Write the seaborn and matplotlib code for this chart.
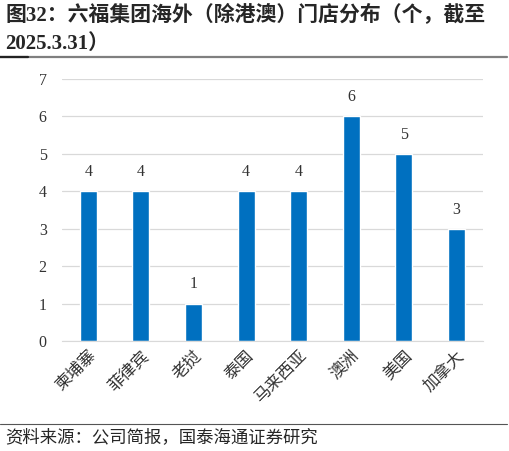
import matplotlib
matplotlib.use("Agg")
import matplotlib.pyplot as plt
import seaborn as sns
import pandas as pd
from matplotlib.lines import Line2D

countries = ['柬埔寨', '菲律宾', '老挝', '泰国', '马来西亚', '澳洲', '美国', '加拿大']
stores = [4, 4, 1, 4, 4, 6, 5, 3]
yticks = [0, 1, 2, 3, 4, 5, 6, 7]

title_line1 = '图32：六福集团海外（除港澳）门店分布（个，截至'
title_line2 = '2025.3.31）'
source_text = '资料来源：公司简报，国泰海通证券研究'

sns.set_style("white")
plt.rcParams['font.family'] = ['Liberation Serif', 'Noto Sans CJK SC', 'DejaVu Sans']

df = pd.DataFrame({'country': countries, 'stores': stores})

fig = plt.figure(figsize=(5.10, 4.51), dpi=100)
ax = fig.add_axes([0.1216, 0.244, 0.825, 0.581])

sns.barplot(data=df, x='country', y='stores', color='#0070C0', width=0.32,
            saturation=1, ax=ax)

ax.set_ylim(0, 7)
ax.set_yticks(yticks)
ax.yaxis.grid(True, color='#d9d9d9', linewidth=0.9)
ax.set_axisbelow(True)
for s in ['top', 'right', 'left']:
    ax.spines[s].set_visible(False)
ax.spines['bottom'].set_color('#d9d9d9')
ax.set_xlabel('')
ax.set_ylabel('')
ax.tick_params(axis='both', length=0, labelsize=11.5, colors='#333333')
ax.tick_params(axis='y', pad=11)
ax.tick_params(axis='x', pad=5)
plt.setp(ax.get_xticklabels(), rotation=45, ha='right', rotation_mode='anchor',
         fontsize=12)

for p in ax.patches:
    ax.annotate(f'{int(p.get_height())}', (p.get_x() + p.get_width() / 2, p.get_height()),
                xytext=(0, 8), textcoords='offset points', ha='center', va='bottom',
                fontsize=11.5, color='#333333')

fig.text(0.010, 0.966, title_line1, fontsize=15, fontweight='bold', va='center', ha='left')
fig.text(0.010, 0.902, title_line2, fontsize=15, fontweight='bold', va='center', ha='left')
fig.add_artist(Line2D([0.0, 0.995], [0.873, 0.873], color='#7f7f7f', linewidth=1.6))
fig.add_artist(Line2D([0.0, 0.055], [0.873, 0.873], color='#222222', linewidth=1.6))
fig.add_artist(Line2D([0.0, 0.995], [0.060, 0.060], color='#555555', linewidth=0.8))
fig.text(0.010, 0.029, source_text, fontsize=12.5, va='center', ha='left')

fig.savefig('out.png', dpi=100)
